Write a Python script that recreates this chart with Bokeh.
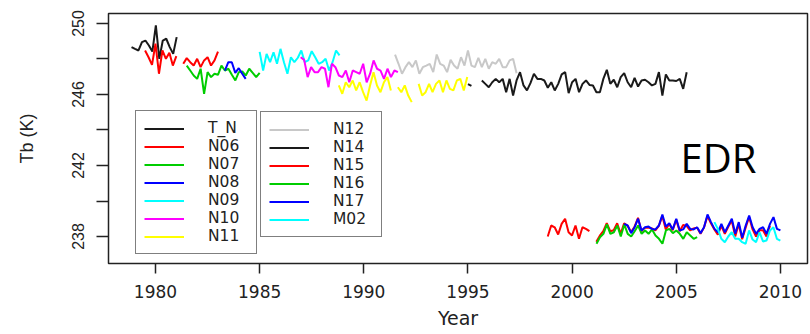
import numpy as np
from bokeh.plotting import figure
from bokeh.models import Legend, LegendItem, FixedTicker, Label, ColumnDataSource
from bokeh.embed import file_html
from bokeh.resources import INLINE

nan = float("nan")
STEP = 1.0 / 6.0   # bi-monthly samples

# ---- data (Tb in K), each series: start year + values at STEP spacing ----
TN_start = 1978.85
TN = [248.67, 248.57, 248.48, 248.95, 249.04, 248.76, 248.42, 249.89, 248.01, 249.04,
      249.14, 248.67, 248.29, 249.23]

N06_start = 1979.5
N06 = [248.48, 248.10, 247.67, 248.86, 247.17, 248.48, 248.01, 248.35, 247.63, 248.16,
       nan, 247.73, 248.05, 247.82, 247.63, 248.01, 247.54, 247.92, 248.10, 247.63,
       247.92, 248.42]

N07_start = 1981.5
N07 = [247.63, 247.35, 247.07, 246.88, 247.45, 246.04, 247.26, 246.98, 247.17, 247.11,
       247.63, 247.35, 247.45, 247.11, 246.79, 247.26, 247.30, 247.07, 247.45, 247.22,
       246.98, 247.22]

N08_start = 1983.33
N08 = [247.35, 247.82, 247.82, 247.22, 247.48, 247.17, 246.88]

N09_start = 1985.0
N09 = [248.40, 247.35, 248.29, 247.82, 248.38, 247.73, 248.57, 247.82, 247.17, 248.10,
       247.82, 248.07, 248.48, 247.82, 247.92, 248.44, 248.10, 247.73, 247.82, 248.01,
       247.35, 247.82, 248.48, 248.20]

N10_start = 1986.97
N10 = [248.10, 247.95, 246.98, 247.54, 247.26, 247.26, 247.54, 247.45, 246.41, 247.73,
       247.54, 247.07, 246.98, 247.35, 246.69, 247.35, 247.26, 247.17, 247.73, 246.69,
       247.17, 247.92, 247.45, 247.35, 246.88, 247.45, 246.98, 247.35, 247.26]

N11_start = 1988.8
N11 = [246.51, 246.04, 246.69, 246.41, 246.79, 246.23, 246.69, 246.13, 245.66, 246.51,
       247.26, 246.51, 246.13, 246.69, 246.98, 246.23, nan, 246.41, 246.13, 246.51,
       245.94, 245.57, nan, 246.60, 245.94, 246.13, 246.60, 246.13, 246.60, 246.79,
       246.13, 246.79, 246.32, 246.23, 246.79, 246.88, 246.23, 246.98]

N12_start = 1991.5
N12 = [248.25, 247.73, 247.17, 247.54, 247.82, 247.54, 247.92, 247.17, 247.54, 247.63,
       247.73, 247.26, 248.25, 247.73, 247.63, 247.26, 247.95, 247.63, 247.45, 248.10,
       247.63, 248.48, 247.63, 247.54, 248.07, 247.54, 248.01, 247.45, 247.82, 247.73,
       248.01, 247.54, 247.54, 247.92, 248.01, 247.20]

N14_start = 1995.0
N14 = [246.58, 246.48, nan, nan, 246.79, 246.60, 246.41, 246.69, 246.88, 246.69,
       246.88, 246.13, 246.88, 245.94, 246.79, 247.26, 246.51, 246.23, 246.64, 247.17,
       246.88, 246.88, 246.79, 246.38, 246.69, 246.23, 246.60, 247.13, 247.26, 246.08,
       246.69, 246.88, 246.13, 246.60, 246.79, 246.54, 246.51, 246.13, 246.13, 246.88,
       247.39, 246.60, 246.83, 246.41, 246.98, 247.20, 246.69, 246.41, 246.94, 246.45,
       246.79, 246.83, 246.69, 246.51, 246.60, 247.26, 245.94, 247.13, 246.79, 246.79,
       246.76, 246.88, 246.32, 247.25]

N15_start = 1998.83
N15 = [238.00, 238.62, 238.52, 238.11, 238.71, 239.00, 238.24, 238.06, 238.62, 237.87,
       238.52, 238.43, 238.30, nan, 237.70, 238.05, 238.30, 238.75, 238.30, 238.35,
       238.75, 238.15, 238.75, 238.60, 238.25, 238.55, 239.05, 238.30, 238.50, 238.50,
       238.45, 238.35, 238.60, 239.15, 238.40, 238.70, 238.35, 238.95, 238.30, 238.65,
       238.60, 238.35, 238.45, 238.50, 238.15, 238.50, 239.15, 238.75, 238.40, 238.10,
       238.60, 238.15, 238.55, 238.90, 238.00, 238.70, 237.85, 238.50, 239.10, 238.40,
       238.00, 238.35, 238.35, 238.00, 238.60]

N16_start = 2001.17
N16 = [237.59, 237.96, 238.15, 238.68, 238.15, 238.24, 238.62, 238.00, 238.68, 238.15,
       238.00, 238.30, 238.62, 238.15, 238.34, 238.15, 238.40, 238.06, 237.87, 237.59,
       238.34, 238.43, 238.19, 238.34, 238.15, 237.87, 238.24, 238.06, 237.87, 237.96]

N17_start = 2002.5
N17 = [238.71, 238.62, 238.19, 238.52, 239.00, 238.34, 238.52, 238.56, 238.43, 238.40,
       238.62, 239.24, 238.56, 238.75, 238.40, 239.00, 238.34, 238.40, 238.71, 238.43,
       238.40, 238.52, 238.19, 238.52, 239.24, 238.81, 238.43, 238.24, 238.71, 238.24,
       238.62, 239.00, 238.15, 238.81, 237.93, 238.62, 239.18, 238.52, 238.15, 238.43,
       238.52, 238.15, 238.71, 239.09, 238.43, 238.34]

M02_start = 2006.83
M02 = [238.81, 238.43, 237.87, 237.68, 238.00, 238.24, 237.87, 237.87, 237.68, 237.59,
       238.34, 237.83, 237.68, 238.24, 237.72, 237.77, 238.34, 238.52, 237.87, 237.77]

series = [
    ("T_N", TN_start, TN, "#1a1a1a"),
    ("N06", N06_start, N06, "#ff0000"),
    ("N07", N07_start, N07, "#00cd00"),
    ("N08", N08_start, N08, "#0000ff"),
    ("N09", N09_start, N09, "#00ffff"),
    ("N10", N10_start, N10, "#ff00ff"),
    ("N11", N11_start, N11, "#ffff00"),
    ("N12", N12_start, N12, "#c8c8c8"),
    ("N14", N14_start, N14, "#1a1a1a"),
    ("N15", N15_start, N15, "#ff0000"),
    ("N16", N16_start, N16, "#00cd00"),
    ("N17", N17_start, N17, "#0000ff"),
    ("M02", M02_start, M02, "#00ffff"),
]

x_ticks = [1980, 1985, 1990, 1995, 2000, 2005, 2010]
y_ticks = [238, 240, 242, 244, 246, 248, 250]
y_tick_labels = {238: "238", 240: "", 242: "242", 244: "", 246: "246", 248: "", 250: "250"}

p = figure(width=810, height=334,
           x_range=(1977.744, 2011.30), y_range=(236.479, 250.563),
           output_backend="svg", toolbar_location=None,
           min_border_left=108, min_border_top=13, min_border_right=3, min_border_bottom=71)
p.grid.visible = False
p.outline_line_color = "#222222"
p.outline_line_width = 1.5
p.background_fill_color = "white"

renderers = {}
for name, start, vals, col in series:
    v = np.array(vals, dtype=float)
    x = start + np.arange(len(v)) * STEP
    src = ColumnDataSource(dict(x=x, y=v))
    renderers[name] = p.line("x", "y", source=src, line_color=col, line_width=2)

TXT = "#222222"
xa = p.xaxis[0]
xa.ticker = FixedTicker(ticks=x_ticks)
xa.axis_line_color = None
xa.major_tick_out = 10
xa.major_tick_in = 0
xa.minor_tick_out = 0
xa.minor_tick_in = 0
xa.major_tick_line_color = TXT
xa.major_tick_line_width = 1.5
xa.major_label_text_font = "DejaVu Sans"
xa.major_label_text_font_size = "17px"
xa.major_label_text_color = TXT
xa.major_label_standoff = 11
xa.axis_label = "Year"
xa.axis_label_text_font = "DejaVu Sans"
xa.axis_label_text_font_size = "19px"
xa.axis_label_text_font_style = "normal"
xa.axis_label_text_color = TXT
xa.axis_label_standoff = 6

ya = p.yaxis[0]
ya.ticker = FixedTicker(ticks=y_ticks)
ya.major_label_overrides = {k: v for k, v in y_tick_labels.items()}
ya.major_label_orientation = "vertical"
ya.axis_line_color = None
ya.major_tick_out = 12
ya.major_tick_in = 0
ya.minor_tick_out = 0
ya.minor_tick_in = 0
ya.major_tick_line_color = TXT
ya.major_tick_line_width = 1.5
ya.major_label_text_font = "Liberation Sans"
ya.major_label_text_font_size = "16px"
ya.major_label_text_color = TXT
ya.major_label_standoff = 12
ya.axis_label = "Tb (K)"
ya.axis_label_text_font = "Liberation Sans"
ya.axis_label_text_font_size = "18px"
ya.axis_label_text_font_style = "normal"
ya.axis_label_text_color = TXT
ya.axis_label_standoff = 33


def make_legend(names, loc):
    items = [LegendItem(label=n, renderers=[renderers[n]]) for n in names]
    leg = Legend(items=items, location=loc, margin=0, padding=8, spacing=0,
                 glyph_width=40, glyph_height=17, label_height=17, label_width=40,
                 label_standoff=24,
                 label_text_font="DejaVu Sans", label_text_font_size="15.5px",
                 label_text_color=TXT,
                 border_line_color="black", border_line_width=1.5,
                 background_fill_color="white", background_fill_alpha=1.0)
    return leg


p.add_layout(make_legend(["T_N", "N06", "N07", "N08", "N09", "N10", "N11"], (27, 9)))
p.add_layout(make_legend(["N12", "N14", "N15", "N16", "N17", "M02"], (152, 26)))

p.add_layout(Label(x=2005.2, y=242.45, text="EDR", text_font="Open Sans",
                   text_font_size="40px", text_color="black", text_baseline="alphabetic"))

open("out.html", "w").write(file_html(p, INLINE))
